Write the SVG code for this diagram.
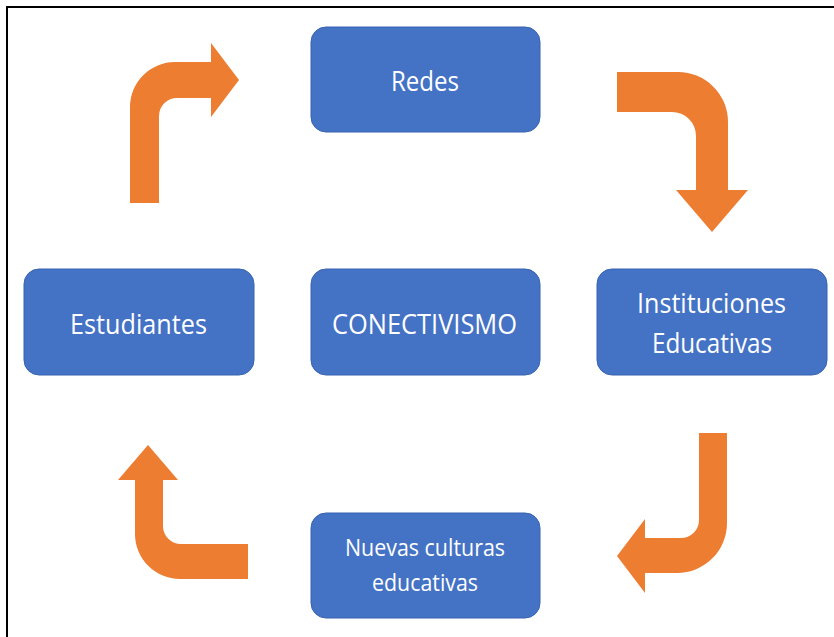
<svg xmlns="http://www.w3.org/2000/svg" width="834" height="637" viewBox="0 0 834 637">
<style>
.box{fill:#4472C4;stroke:#3763B0;stroke-width:1}
.arr{fill:#ED7D31}
.t{font-family:"Open Sans","Noto Sans",sans-serif;fill:#FFFFFF;text-anchor:middle}
.big{font-size:27.5px}
.small{font-size:23.5px}
</style>
<rect x="0" y="0" width="834" height="637" fill="#FFFFFF"/>
<path d="M7 637 V7 H834" fill="none" stroke="#000000" stroke-width="2"/>
<g id="connectors">
<path class="arr" d="M130 203 V107 A45 45 0 0 1 175 62 H211 V43 L239 80 L211 117 V98 H177 A18 18 0 0 0 159 116 V203 Z"/>
<path class="arr" d="M617 72 H678 A50 50 0 0 1 728 122 V190 H748 L712 232 L676 190 H696 V136 A24 24 0 0 0 672 112 H617 Z"/>
<path class="arr" d="M699 433 H727 V523 A50 50 0 0 1 677 573 H645 V593 L617 556 L645 519 V538 H681 A18 18 0 0 0 699 520 Z"/>
<path class="arr" d="M248 544 H181 A18 18 0 0 1 163 526 V480 H178 L148 445 L118 480 H135 V534 A45 45 0 0 0 180 579 H248 Z"/>
</g>
<g id="redes">
<rect class="box" x="311" y="27" width="229" height="105" rx="15"/>
<text class="t big" x="425" y="91" textLength="68" lengthAdjust="spacingAndGlyphs">Redes</text>
</g>
<g id="instituciones">
<rect class="box" x="597" y="269" width="230" height="106" rx="15"/>
<text class="t big" x="711.5" y="313" textLength="149" lengthAdjust="spacingAndGlyphs">Instituciones</text>
<text class="t big" x="712" y="353" textLength="120" lengthAdjust="spacingAndGlyphs">Educativas</text>
</g>
<g id="estudiantes">
<rect class="box" x="24" y="269" width="230" height="106" rx="15"/>
<text class="t big" x="138.5" y="334" textLength="137" lengthAdjust="spacingAndGlyphs">Estudiantes</text>
</g>
<g id="conectivismo">
<rect class="box" x="311" y="269" width="229" height="106" rx="15"/>
<text class="t big" x="424.5" y="334" textLength="185" lengthAdjust="spacingAndGlyphs">CONECTIVISMO</text>
</g>
<g id="nuevas">
<rect class="box" x="311" y="513" width="229" height="105" rx="15"/>
<text class="t small" x="425" y="556" textLength="160" lengthAdjust="spacingAndGlyphs">Nuevas culturas</text>
<text class="t small" x="425" y="591" textLength="106" lengthAdjust="spacingAndGlyphs">educativas</text>
</g>
</svg>
